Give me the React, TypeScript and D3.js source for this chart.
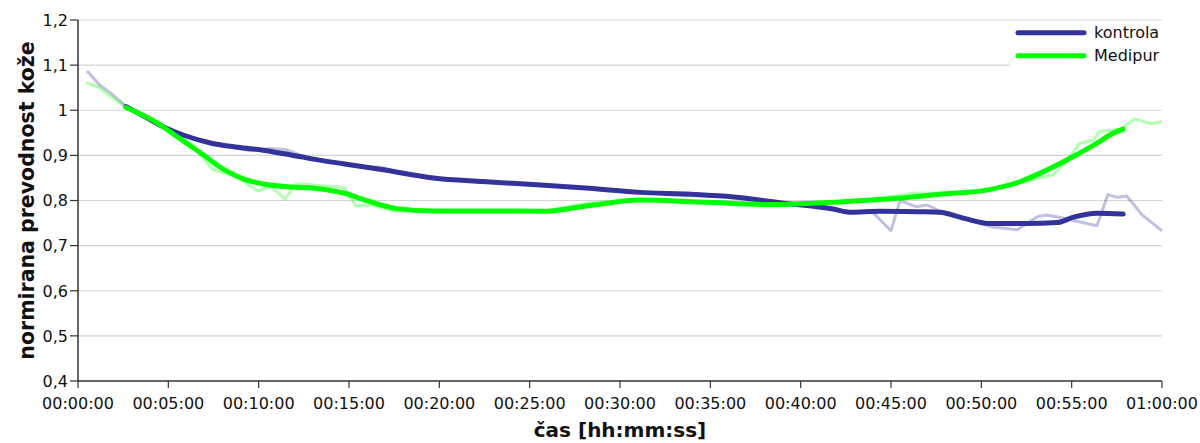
import React from 'react';
import * as d3 from 'd3';

// time in minutes, values = normalised skin conductance
const kontrolaRawT = [0.5, 1.2, 1.8, 2.7, 3.7, 4.8, 5.9, 7.4, 8.9, 9.5, 10.6, 11.5, 12.2, 13.3, 14.8, 16.2, 16.9, 17.7, 19.7, 22.4, 25.4, 28.3, 31.1, 33.5, 36.3, 38.9, 41.8, 42.7, 44.0, 45.0, 45.5, 46.4, 47.0, 47.9, 50.5, 52.0, 53.1, 53.6, 54.3, 55.4, 56.4, 57.0, 57.5, 58.05, 58.9, 60];
const kontrolaRawV = [1.087, 1.056, 1.038, 1.008, 0.985, 0.962, 0.943, 0.928, 0.915, 0.91, 0.915, 0.913, 0.902, 0.891, 0.88, 0.874, 0.873, 0.862, 0.85, 0.841, 0.834, 0.826, 0.818, 0.817, 0.809, 0.795, 0.781, 0.775, 0.773, 0.733, 0.8, 0.786, 0.79, 0.773, 0.742, 0.735, 0.764, 0.768, 0.763, 0.753, 0.744, 0.813, 0.807, 0.81, 0.768, 0.733];

const medipurRawT = [0.46, 1.1, 1.84, 2.66, 4.4, 5.5, 6.27, 7.47, 8.67, 9.96, 10.7, 11.44, 12.08, 12.9, 14.76, 15.4, 16.2, 17.5, 19.7, 22.8, 25.75, 28.3, 31.1, 34.8, 38.5, 41.25, 44.0, 46.2, 48.1, 50.3, 52.1, 54.0, 54.7, 55.45, 56.2, 56.55, 57.7, 58.5, 59.4, 60];
const medipurRawV = [1.061, 1.052, 1.03, 1.006, 0.972, 0.942, 0.927, 0.868, 0.855, 0.821, 0.831, 0.803, 0.837, 0.835, 0.829, 0.787, 0.79, 0.777, 0.776, 0.777, 0.776, 0.795, 0.801, 0.796, 0.791, 0.795, 0.803, 0.816, 0.817, 0.822, 0.84, 0.857, 0.886, 0.927, 0.934, 0.953, 0.958, 0.981, 0.97, 0.975];

const kontrolaT = [2.66, 3.69, 4.8, 5.9, 7.38, 8.85, 10.33, 11.8, 13.28, 14.76, 16.9, 19.66, 22.4, 25.4, 28.3, 31.1, 33.9, 36.3, 38.85, 41.8, 42.7, 44.4, 46.5, 47.7, 49.0, 50.5, 52.5, 54.2, 55.1, 56.4, 57.85];
const kontrolaV = [1.008, 0.986, 0.962, 0.944, 0.927, 0.918, 0.911, 0.901, 0.89, 0.881, 0.868, 0.85, 0.842, 0.835, 0.827, 0.818, 0.814, 0.808, 0.795, 0.781, 0.774, 0.776, 0.775, 0.774, 0.761, 0.749, 0.749, 0.751, 0.763, 0.772, 0.77];

const medipurT = [2.66, 4.43, 5.53, 7.01, 7.75, 9.22, 10.33, 11.8, 12.73, 14.02, 14.76, 15.5, 17.64, 19.66, 22.8, 25.75, 28.33, 31.1, 34.8, 38.5, 41.25, 44.4, 48.07, 50.3, 52.1, 53.6, 54.7, 56.2, 57.3, 57.85];
const medipurV = [1.006, 0.971, 0.94, 0.899, 0.877, 0.847, 0.836, 0.83, 0.828, 0.822, 0.816, 0.806, 0.782, 0.777, 0.777, 0.776, 0.789, 0.801, 0.796, 0.791, 0.795, 0.802, 0.815, 0.823, 0.841, 0.867, 0.889, 0.922, 0.949, 0.958];

const yTicks = [0.4, 0.5, 0.6, 0.7, 0.8, 0.9, 1.0, 1.1, 1.2];
const xTicks = [0, 5, 10, 15, 20, 25, 30, 35, 40, 45, 50, 55, 60];
const seriesNames = ['kontrola', 'Medipur'];
const seriesColors = ['#333399', '#00ff00'];

const W = 1200, H = 443;
const m = { left: 78, right: 38, top: 20, bottom: 62 };
const font = 'DejaVu Sans, sans-serif';

const pad = (n: number) => String(n).padStart(2, '0');
const fmtTime = (min: number) => `${pad(Math.floor(min / 60))}:${pad(min % 60)}:00`;
const fmtY = d3.formatLocale({ decimal: ',', thousands: '.', grouping: [3], currency: ['', ''] }).format('.1~f');

export default function App() {
  const x = d3.scaleLinear().domain([0, 60]).range([m.left, W - m.right]);
  const y = d3.scaleLinear().domain([0.4, 1.2]).range([H - m.bottom, m.top]);
  const line = (ts: number[], vs: number[], curve: d3.CurveFactory) =>
    d3.line<number>().x(i => x(ts[i])).y(i => y(vs[i])).curve(curve)(ts.map((_, i) => i)) || '';

  const x0 = x(0), x1 = x(60), yb = y(0.4);

  return (
    <svg width={W} height={H} style={{ position: 'absolute', left: 0, top: 0, fontFamily: font }}>
      <rect width={W} height={H} fill="#fff" />
      {yTicks.slice(1).map(t => (
        <line key={t} x1={x0} x2={x1} y1={y(t)} y2={y(t)} stroke="#d4d4d4" strokeWidth={1.2} />
      ))}
      {/* legend box */}
      <rect x={1010} y={y(1.2) + 1} width={x1 - 1010} height={48} fill="#fff" />
      {/* raw lines */}
      <path d={line(kontrolaRawT, kontrolaRawV, d3.curveLinear)} fill="none" stroke={seriesColors[0]} strokeOpacity={0.3} strokeWidth={3} strokeLinejoin="round" />
      <path d={line(medipurRawT, medipurRawV, d3.curveLinear)} fill="none" stroke={seriesColors[1]} strokeOpacity={0.3} strokeWidth={3} strokeLinejoin="round" />
      {/* smoothed lines */}
      <path d={line(kontrolaT, kontrolaV, d3.curveMonotoneX)} fill="none" stroke={seriesColors[0]} strokeWidth={5} strokeLinecap="round" strokeLinejoin="round" />
      <path d={line(medipurT, medipurV, d3.curveMonotoneX)} fill="none" stroke={seriesColors[1]} strokeWidth={5} strokeLinecap="round" strokeLinejoin="round" />
      {/* axes */}
      <line x1={x0} x2={x0} y1={y(1.2)} y2={yb} stroke="#333" strokeWidth={1.5} />
      <line x1={x0} x2={x1} y1={yb} y2={yb} stroke="#333" strokeWidth={1.5} />
      {yTicks.map(t => (
        <g key={t}>
          <line x1={x0 - 8} x2={x0} y1={y(t)} y2={y(t)} stroke="#333" strokeWidth={1.2} />
          <text x={x0 - 10} y={y(t)} dy="0.36em" textAnchor="end" fontSize={16} fill="#111">{fmtY(t)}</text>
        </g>
      ))}
      {xTicks.map(t => (
        <g key={t}>
          <line x1={x(t)} x2={x(t)} y1={yb} y2={yb + 7} stroke="#333" strokeWidth={1.2} />
          <text x={x(t)} y={yb + 28} textAnchor="middle" fontSize={16} fill="#111">{fmtTime(t)}</text>
        </g>
      ))}
      <text x={(x0 + x1) / 2} y={437} textAnchor="middle" fontSize={20} fontWeight="bold" fill="#111">čas [hh:mm:ss]</text>
      <text transform={`translate(34,${(y(1.2) + yb) / 2}) rotate(-90)`} textAnchor="middle" fontSize={20.5} fontWeight="bold" fill="#111">normirana prevodnost kože</text>
      {seriesNames.map((n, i) => (
        <g key={n} transform={`translate(1018,${32.7 + i * 23})`}>
          <line x1={0} x2={66} y1={0} y2={0} stroke={seriesColors[i]} strokeWidth={5} strokeLinecap="round" />
          <text x={76} y={0} dy="0.36em" fontSize={16} fill="#111">{n}</text>
        </g>
      ))}
    </svg>
  );
}
